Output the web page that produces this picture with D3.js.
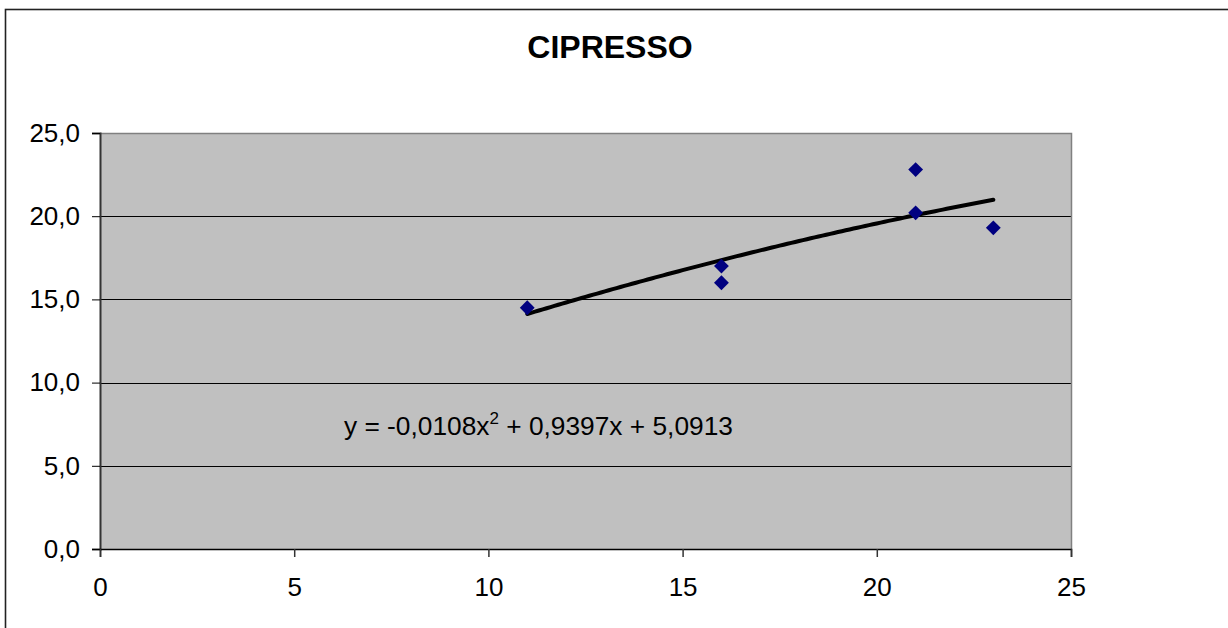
<!DOCTYPE html>
<html>
<head>
<meta charset="utf-8">
<script src="https://cdn.jsdelivr.net/npm/d3@7"></script>
<style>
  html, body { margin: 0; padding: 0; background: #fff; }
  svg { display: block; font-family: Arial, "Liberation Sans", sans-serif; }
</style>
</head>
<body>
<svg id="chart" width="1228" height="628"></svg>
<script>
// Cypress measurements: x = diameter class, y = height
const title = "CIPRESSO";
const xValues = [11, 16, 16, 21, 21, 23];
const yValues = [14.5, 17.0, 16.0, 22.8, 20.2, 19.3];
const xTicks = [0, 5, 10, 15, 20, 25];
const yTicks = [0, 5, 10, 15, 20, 25];
// Polynomial (order 2) trend line coefficients: a*x^2 + b*x + c
const trendA = -0.0108, trendB = 0.9397, trendC = 5.0913;
const trendRange = [11, 23];

const svg = d3.select("#chart");
const W = 1228, H = 628;
const plot = { left: 100, right: 1071, top: 133, bottom: 549 };
const FONT = "Arial, 'Liberation Sans', sans-serif";

// outer chart frame (continues past the right and bottom edges)
svg.append("rect")
  .attr("x", 5.5).attr("y", 9.5)
  .attr("width", W + 20).attr("height", H + 20)
  .attr("fill", "#fff").attr("stroke", "#222").attr("stroke-width", 1.6);

const x = d3.scaleLinear().domain([0, 25]).range([plot.left, plot.right]);
const y = d3.scaleLinear().domain([0, 25]).range([plot.bottom, plot.top]);

const fmtY = v => d3.format(".1f")(v).replace(".", ",");

// plot area
svg.append("rect")
  .attr("x", plot.left).attr("y", plot.top)
  .attr("width", plot.right - plot.left).attr("height", plot.bottom - plot.top)
  .attr("fill", "#c0c0c0");

// horizontal gridlines
svg.append("g").selectAll("line")
  .data(yTicks.filter(t => t > 0 && t < 25))
  .join("line")
  .attr("x1", plot.left).attr("x2", plot.right)
  .attr("y1", d => Math.round(y(d)) + 0.5).attr("y2", d => Math.round(y(d)) + 0.5)
  .attr("stroke", "#000").attr("stroke-width", 1);

// plot border (top/right)
svg.append("path")
  .attr("d", `M${plot.left},${plot.top + 0.5}H${plot.right + 0.5}V${plot.bottom}`)
  .attr("fill", "none").attr("stroke", "#808080").attr("stroke-width", 1.5);

// axes
const yAxis = d3.axisLeft(y).tickValues(yTicks).tickFormat(fmtY).tickSize(8).tickPadding(12);
const gy = svg.append("g").attr("transform", `translate(${plot.left},0)`).call(yAxis);
gy.select(".domain").attr("stroke", "#333").attr("stroke-width", 2);
gy.selectAll(".tick line").attr("stroke", "#000");
gy.selectAll("text").attr("font-size", 26).attr("fill", "#000").attr("font-family", FONT);

const xAxis = d3.axisBottom(x).tickValues(xTicks).tickFormat(d3.format("d")).tickSize(8).tickPadding(21);
const gx = svg.append("g").attr("transform", `translate(0,${plot.bottom})`).call(xAxis);
gx.select(".domain").attr("stroke", "#000").attr("stroke-width", 1.5);
gx.selectAll(".tick line").attr("stroke", "#333").attr("stroke-width", 1.5);
gx.selectAll("text").attr("font-size", 26).attr("fill", "#000").attr("font-family", FONT);

// trend line
const trendX = d3.range(trendRange[0], trendRange[1] + 0.001, 0.1);
const line = d3.line()
  .x(d => x(d))
  .y(d => y(trendA * d * d + trendB * d + trendC));
svg.append("path")
  .datum(trendX)
  .attr("d", line)
  .attr("fill", "none").attr("stroke", "#000")
  .attr("stroke-width", 4).attr("stroke-linecap", "round");

// data markers (diamonds)
const diamond = d3.symbol().type(d3.symbolDiamond2).size(140);
svg.append("g").selectAll("path")
  .data(xValues.map((v, i) => [v, yValues[i]]))
  .join("path")
  .attr("transform", d => `translate(${x(d[0])},${y(d[1])})`)
  .attr("d", diamond)
  .attr("fill", "#000080");

// title
svg.append("text")
  .attr("x", 610).attr("y", 58)
  .attr("text-anchor", "middle")
  .attr("font-size", 32).attr("font-weight", "bold")
  .text(title);

// trend equation
const eq = svg.append("text")
  .attr("x", 344).attr("y", 435)
  .attr("font-size", 26.3);
const fmtC = v => String(v).replace(".", ",");
eq.append("tspan").text(`y = ${fmtC(trendA)}x`);
eq.append("tspan").attr("dy", -11).attr("font-size", 17).text("2");
eq.append("tspan").attr("dy", 11).text(` + ${fmtC(trendB)}x + ${fmtC(trendC)}`);
</script>
</body>
</html>
